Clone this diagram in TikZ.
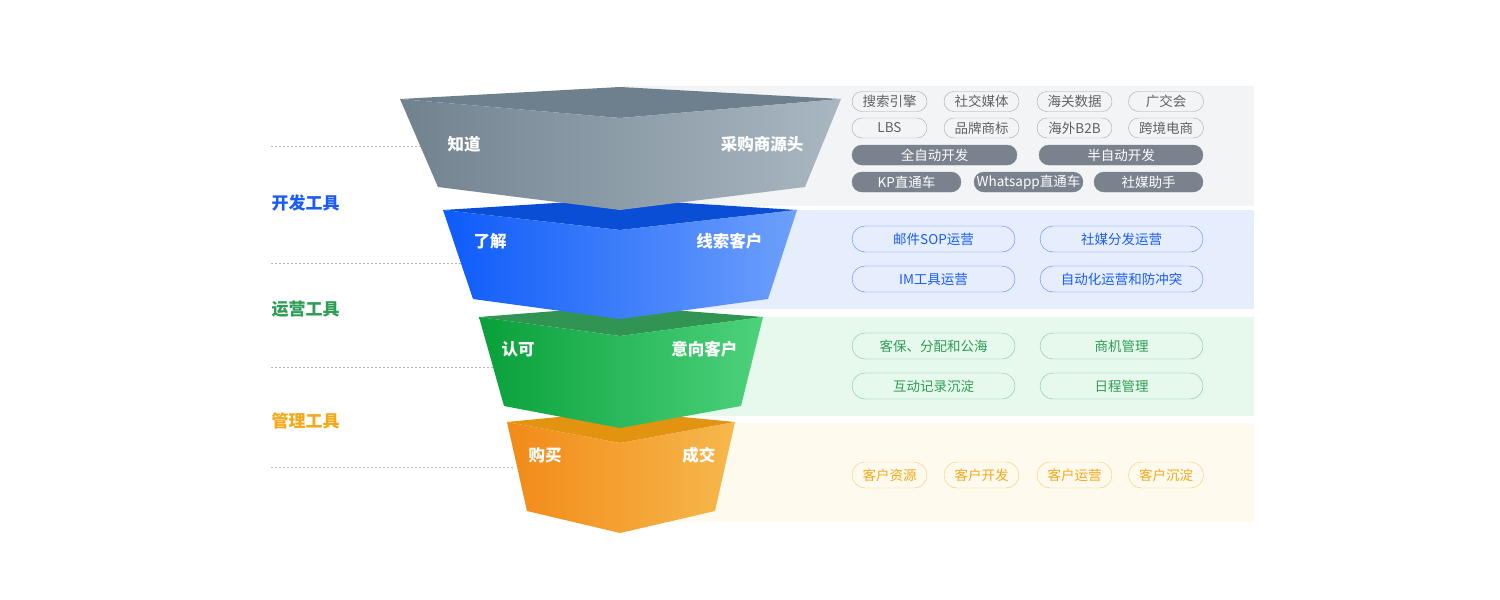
\documentclass[tikz,border=0pt]{standalone}
\usepackage{fontspec}
\setmainfont{Noto Sans CJK SC}
\usetikzlibrary{calc}

\definecolor{grayfront}{HTML}{7C8E9C}
\definecolor{grayleft}{HTML}{71828F}
\definecolor{grayright}{HTML}{A9B7C1}
\definecolor{graytop}{HTML}{6E808D}
\definecolor{blueleft}{HTML}{0D5BFA}
\definecolor{blueright}{HTML}{6EA0FB}
\definecolor{bluetop}{HTML}{0B4ED6}
\definecolor{greenleft}{HTML}{08A03A}
\definecolor{greenright}{HTML}{4ED27C}
\definecolor{greentop}{HTML}{329452}
\definecolor{orangeleft}{HTML}{F28A18}
\definecolor{orangeright}{HTML}{F6B84C}
\definecolor{orangetop}{HTML}{E29410}
\definecolor{graypanel}{HTML}{F3F4F6}
\definecolor{bluepanel}{HTML}{E6EEFD}
\definecolor{greenpanel}{HTML}{E7F8ED}
\definecolor{orangepanel}{HTML}{FFFAEE}
\definecolor{chipgray}{HTML}{7A828E}
\definecolor{toolblue}{HTML}{1A5CF5}
\definecolor{toolgreen}{HTML}{2E9D55}
\definecolor{toolorange}{HTML}{F5A818}

\tikzset{
	chip/.style={draw, inner sep=0pt},
	linechip/.style={chip, draw=black!35, text=black!62, rounded corners=10pt, minimum height=20pt, minimum width=75pt, font=\fontsize{13.5}{13.5}\selectfont},
	fillchip/.style={chip, draw=chipgray, fill=chipgray, text=white, rounded corners=10pt, minimum height=20pt, font=\fontsize{13.5}{13.5}\selectfont},
	bluechip/.style={chip, draw=toolblue!75, text=toolblue, rounded corners=13pt, minimum height=26pt, minimum width=163pt, font=\fontsize{13.5}{13.5}\selectfont},
	greenchip/.style={chip, draw=toolgreen!60, text=toolgreen, rounded corners=13pt, minimum height=26pt, minimum width=163pt, font=\fontsize{13.5}{13.5}\selectfont},
	orangechip/.style={chip, draw=toolorange!65, text=toolorange, rounded corners=13pt, minimum height=26pt, minimum width=75pt, font=\fontsize{13.5}{13.5}\selectfont},
	funnellabel/.style={text=white, font=\fontsize{16.5}{16.5}\selectfont\bfseries},
	toollabel/.style={anchor=west, font=\fontsize{17}{17}\selectfont\bfseries},
	guide/.style={line width=1pt, black!28, dash pattern=on 2pt off 2pt}
}

\begin{document}
\begin{tikzpicture}[x=1pt, y=-1pt]
			%%%%% START %%%%%
			\useasboundingbox[fill=white] (0, 0) rectangle (1500, 600);
			
			% panels
			\fill[graypanel] (620, 86) rectangle (1254, 206);
			\fill[bluepanel] (620, 210) rectangle (1254, 309);
			\fill[greenpanel] (620, 317) rectangle (1254, 416);
			\fill[orangepanel] (620, 423) rectangle (1254, 522);
			
			% guide lines
			\draw[guide] (271, 146) -- (440, 146);
			\draw[guide] (271, 263) -- (462, 263);
			\draw[guide] (271, 367) -- (495, 367);
			\draw[guide] (271, 467) -- (515, 467);
			
			% orange piece
			\fill[orangetop] (507, 422) -- (620, 411) -- (735, 422) -- (620, 443) -- cycle;
			\shade[left color=orangeleft, right color=orangeright] (507, 422) -- (620, 443) -- (735, 422) -- (715, 511) -- (620, 533) -- (527, 511) -- cycle;
			
			% green piece
			\fill[greentop] (479, 317) -- (620, 306) -- (763, 317) -- (620, 336) -- cycle;
			\shade[left color=greenleft, right color=greenright] (479, 317) -- (620, 336) -- (763, 317) -- (741, 406) -- (620, 428) -- (504, 406) -- cycle;
			
			% blue piece
			\fill[bluetop] (443, 210) -- (620, 199) -- (797, 210) -- (620, 230) -- cycle;
			\shade[left color=blueleft, right color=blueright] (443, 210) -- (620, 230) -- (797, 210) -- (768, 299) -- (620, 319) -- (473, 299) -- cycle;
			
			% gray piece
			\fill[graytop] (400, 99) -- (620, 87) -- (841, 99) -- (620, 118) -- cycle;
			\shade[left color=grayleft, right color=grayright] (400, 99) -- (620, 118) -- (841, 99) -- (805, 187) -- (620, 210) -- (438, 187) -- cycle;
			
			% funnel labels
			\node[funnellabel, anchor=west] (know) at (444, 144) {知道};
			\node[funnellabel, anchor=east] (source) at (807, 144) {采购商源头};
			\node[funnellabel, anchor=west] (learn) at (470, 241) {了解};
			\node[funnellabel, anchor=east] (lead) at (766, 241) {线索客户};
			\node[funnellabel, anchor=west] (accept) at (498, 349) {认可};
			\node[funnellabel, anchor=east] (intent) at (741, 349) {意向客户};
			\node[funnellabel, anchor=west] (buy) at (525, 455) {购买};
			\node[funnellabel, anchor=east] (deal) at (719, 455) {成交};
			
			% tool labels
			\node[toollabel, text=toolblue] (devtool) at (268, 203) {开发工具};
			\node[toollabel, text=toolgreen] (optool) at (268, 309) {运营工具};
			\node[toollabel, text=toolorange] (mgtool) at (268, 421) {管理工具};
			
			% development chips
			\node[linechip] (search) at (889.5, 101.5) {搜索引擎};
			\node[linechip] (social) at (981.5, 101.5) {社交媒体};
			\node[linechip] (customs) at (1074.5, 101.5) {海关数据};
			\node[linechip] (canton) at (1166, 101.5) {广交会};
			\node[linechip] (lbs) at (889.5, 128) {LBS};
			\node[linechip] (brand) at (981.5, 128) {品牌商标};
			\node[linechip] (btob) at (1074.5, 128) {海外B2B};
			\node[linechip] (ecom) at (1166, 128) {跨境电商};
			\node[fillchip, minimum width=165pt] (fullauto) at (934.5, 155) {全自动开发};
			\node[fillchip, minimum width=164pt] (semiauto) at (1121, 155) {半自动开发};
			\node[fillchip, minimum width=109pt] (kp) at (906.5, 182) {KP直通车};
			\node[fillchip, minimum width=109pt] (whatsapp) at (1028.5, 182) {Whatsapp直通车};
			\node[fillchip, minimum width=109pt] (helper) at (1148.5, 182) {社媒助手};
			
			% operation chips
			\node[bluechip] (mailsop) at (933.5, 239) {邮件SOP运营};
			\node[bluechip] (spread) at (1121.5, 239) {社媒分发运营};
			\node[bluechip] (imtool) at (933.5, 279) {IM工具运营};
			\node[bluechip] (autoop) at (1121.5, 279) {自动化运营和防冲突};
			
			\node[greenchip] (protect) at (933.5, 346) {客保、分配和公海};
			\node[greenchip] (chance) at (1121.5, 346) {商机管理};
			\node[greenchip] (record) at (933.5, 386) {互动记录沉淀};
			\node[greenchip] (schedule) at (1121.5, 386) {日程管理};
			
			% management chips
			\node[orangechip] (resource) at (889.5, 475) {客户资源};
			\node[orangechip] (develop) at (981.5, 475) {客户开发};
			\node[orangechip] (operate) at (1074.5, 475) {客户运营};
			\node[orangechip] (settle) at (1166, 475) {客户沉淀};
			
			%%%%% END %%%%%
		\end{tikzpicture}
\end{document}
